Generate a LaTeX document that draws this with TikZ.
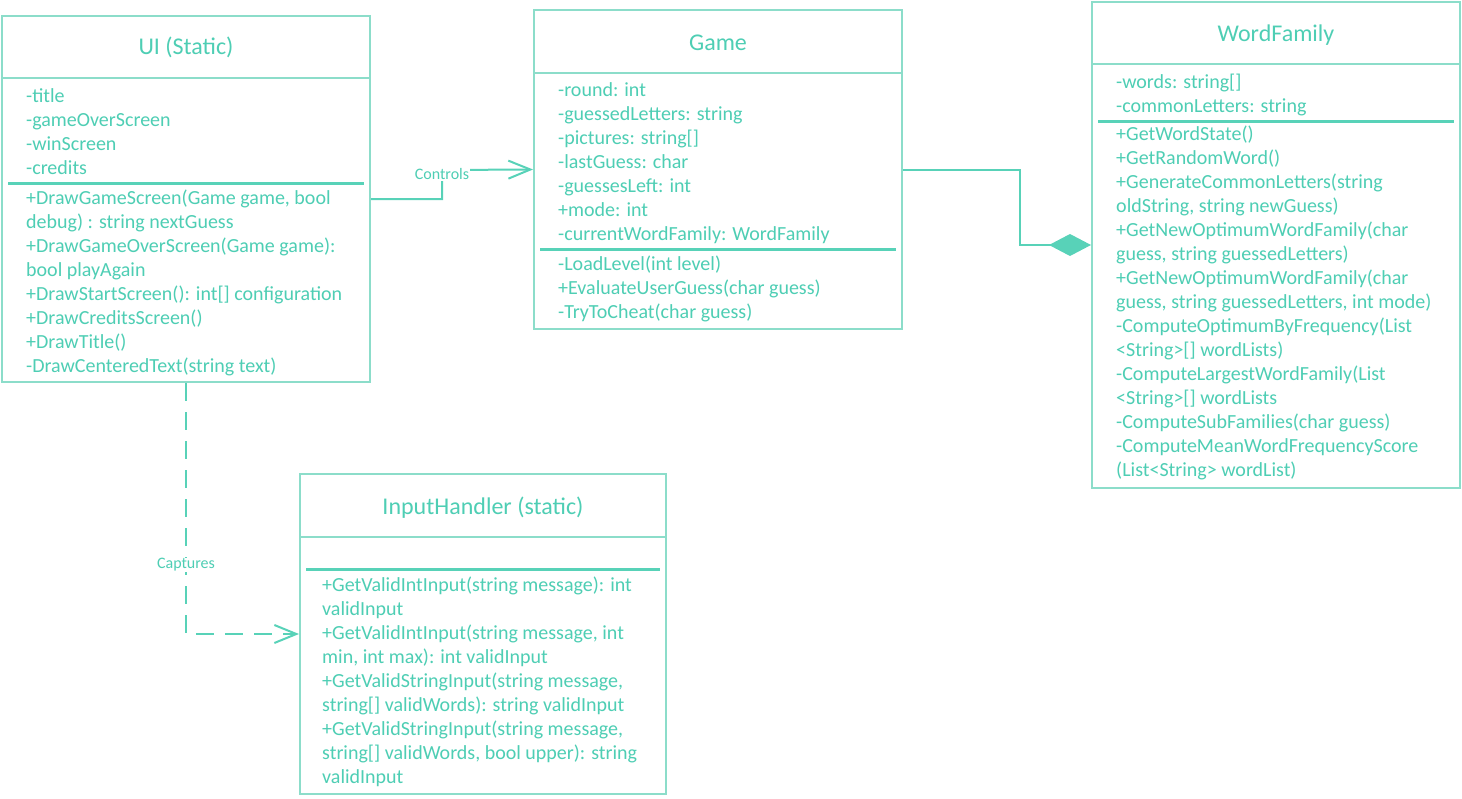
\documentclass[tikz,border=0pt]{standalone}
\usepackage{fontspec}
\setmainfont{Carlito}
\usetikzlibrary{arrows.meta}
\definecolor{tealtext}{RGB}{78,206,180}
\definecolor{tealbox}{RGB}{140,221,202}
\definecolor{tealline}{RGB}{88,210,184}
\begin{document}
\begin{tikzpicture}[x=1pt,y=-1pt,
  classbox/.style={draw=tealbox, line width=2pt, fill=white, inner sep=0pt},
  headline/.style={draw=tealbox, line width=2pt},
  splitline/.style={draw=tealline, line width=3pt},
  classtitle/.style={text=tealtext, inner sep=0pt, anchor=base, font=\fontsize{24}{24}\selectfont},
  member/.style={text=tealtext, inner sep=0pt, anchor=base west, font=\fontsize{20}{20}\selectfont},
  conn/.style={draw=tealline, line width=2pt},
  openhead/.style={-{Straight Barb[length=22pt,width=18pt,line width=2pt]}},
  connlabel/.style={text=tealtext, fill=white, inner sep=1pt, font=\fontsize{16}{16}\selectfont}]
\useasboundingbox (0,0) rectangle (1462,798);

% ---------- UI (Static) ----------
\node[classbox, minimum width=368pt, minimum height=366pt] (ui) at (186,199) {};
\node[classtitle] (ui-title) at (186,54) {UI (Static)};
\draw[headline] (2,78) -- (370,78);
\draw[splitline] (8,183) -- (364,183);
\foreach \t [count=\i from 0] in {{-title},{-gameOverScreen},{-winScreen},{-credits}}
  \node[member] (ui-a\i) at (26,102+24*\i) {\t};
\foreach \t [count=\i from 0] in {{+DrawGameScreen(Game game, bool},{debug) : string nextGuess},
  {+DrawGameOverScreen(Game game):},{bool playAgain},{+DrawStartScreen(): int[] configuration},
  {+DrawCreditsScreen()},{+DrawTitle()},{-DrawCenteredText(string text)}}
  \node[member] (ui-m\i) at (26,204+24*\i) {\t};

% ---------- Game ----------
\node[classbox, minimum width=368pt, minimum height=319pt] (game) at (718,169.5) {};
\node[classtitle] (game-title) at (718,50) {Game};
\draw[headline] (534,73) -- (902,73);
\draw[splitline] (540,249) -- (896,249);
\foreach \t [count=\i from 0] in {{-round: int},{-guessedLetters: string},{-pictures: string[]},
  {-lastGuess: char},{-guessesLeft: int},{+mode: int},{-currentWordFamily: WordFamily}}
  \node[member] (game-a\i) at (558,96+24*\i) {\t};
\foreach \t [count=\i from 0] in {{-LoadLevel(int level)},{+EvaluateUserGuess(char guess)},{-TryToCheat(char guess)}}
  \node[member] (game-m\i) at (558,270+24*\i) {\t};

% ---------- WordFamily ----------
\node[classbox, minimum width=368pt, minimum height=486pt] (wf) at (1276,245) {};
\node[classtitle] (wf-title) at (1276,41) {WordFamily};
\draw[headline] (1092,64) -- (1460,64);
\draw[splitline] (1098,121) -- (1454,121);
\foreach \t [count=\i from 0] in {{-words: string[]},{-commonLetters: string}}
  \node[member] (wf-a\i) at (1116,88+24*\i) {\t};
\foreach \t [count=\i from 0] in {{+GetWordState()},{+GetRandomWord()},
  {+GenerateCommonLetters(string},{oldString, string newGuess)},
  {+GetNewOptimumWordFamily(char},{guess, string guessedLetters)},
  {+GetNewOptimumWordFamily(char},{guess, string guessedLetters, int mode)},
  {-ComputeOptimumByFrequency(List},{<String>[] wordLists)},
  {-ComputeLargestWordFamily(List},{<String>[] wordLists},
  {-ComputeSubFamilies(char guess)},{-ComputeMeanWordFrequencyScore},
  {(List<String> wordList)}}
  \node[member] (wf-m\i) at (1116,140+24*\i) {\t};

% ---------- InputHandler (static) ----------
\node[classbox, minimum width=366pt, minimum height=320pt] (ih) at (483,634) {};
\node[classtitle] (ih-title) at (483,514) {InputHandler (static)};
\draw[headline] (300,537) -- (666,537);
\draw[splitline] (306,569) -- (660,569);
\foreach \t [count=\i from 0] in {{+GetValidIntInput(string message): int},{validInput},
  {+GetValidIntInput(string message, int},{min, int max): int validInput},
  {+GetValidStringInput(string message,},{string[] validWords): string validInput},
  {+GetValidStringInput(string message,},{string[] validWords, bool upper): string},
  {validInput}}
  \node[member] (ih-m\i) at (322,591+24*\i) {\t};

% ---------- Connectors ----------
\coordinate (ctlbend) at (442,170);
\draw[conn, openhead] (ui.east) -| (ctlbend) -- (game.west);
\node[connlabel] (ctl-label) at (442,174) {Controls};

\coordinate (cmpbend) at (1020,245);
\draw[conn, -{Diamond[length=42pt,width=22pt,fill=tealline,line width=0pt]}]
  (game.east) -| (cmpbend) -- (wf.west);

\coordinate (capbend) at (186,634);
\draw[conn, openhead, dash pattern=on 18pt off 11pt] (ui.south) -- (capbend) -- (ih.west);
\node[connlabel] (cap-label) at (186,565) {Captures};
\end{tikzpicture}
\end{document}
